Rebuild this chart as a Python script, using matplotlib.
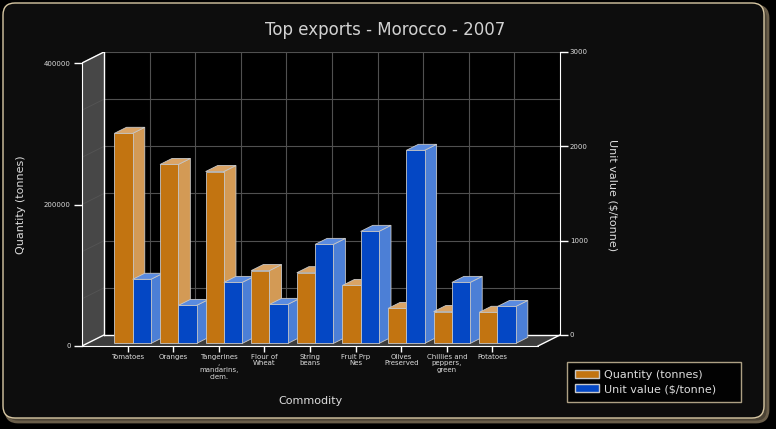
import matplotlib
matplotlib.use("Agg")
import matplotlib.pyplot as plt
from matplotlib.patches import Polygon, Rectangle, FancyBboxPatch, Patch

commodities = ["Tomatoes", "Oranges", "Tangerines\n,\nmandarins,\nclem.", "Flour of\nWheat",
               "String\nbeans", "Fruit Prp\nNes", "Olives\nPreserved",
               "Chillies and\npeppers,\ngreen", "Potatoes"]
quantity = [297000, 253000, 243000, 103000, 100000, 82000, 49500, 45000, 44000]
unit_value = [680, 403, 647, 414, 1050, 1188, 2047, 647, 392]

q_max = 400000
v_max = 3000
q_ticks = [0, 200000, 400000]
v_ticks = [0, 1000, 2000, 3000]

# 3d look: depth vector of the whole plot box (x in category units, y in tonnes)
DX, DY = 0.482, 15550
n = len(commodities)
xmax = n + 1
scale = q_max / v_max

bg = "#0d0d0d"
txt = "#dcdcdc"
orange = ("#c27411", "#d39a55", "#daa466")
blue = ("#0447c4", "#4c7fd6", "#5a8be0")

fig = plt.figure(figsize=(7.76, 4.29), dpi=100, facecolor="black")

# background frame
frame = fig.add_axes([0, 0, 1, 1])
frame.set_xlim(0, 776)
frame.set_ylim(429, 0)
frame.axis("off")
frame.add_patch(FancyBboxPatch((6, 6), 762, 416, boxstyle="round,pad=0,rounding_size=12",
                               facecolor="#4a4234", edgecolor="#6a5e4a", lw=2))
frame.add_patch(FancyBboxPatch((3, 3), 761, 415, boxstyle="round,pad=0,rounding_size=12",
                               facecolor=bg, edgecolor="#d8c8a4", lw=1))

ax = fig.add_axes([82 / 776, 1 - 346 / 429, 478 / 776, 294 / 429])
ax.set_xlim(0, xmax + DX)
ax.set_ylim(0, q_max + DY)
ax.patch.set_visible(False)

# walls and floor
ax.add_patch(Rectangle((DX, DY), xmax, q_max, facecolor="black", edgecolor="none", zorder=0))
ax.add_patch(Polygon([(0, 0), (DX, DY), (DX, q_max + DY), (0, q_max)],
                     facecolor="#474747", edgecolor="none", zorder=0))
ax.add_patch(Polygon([(0, 0), (xmax, 0), (xmax + DX, DY), (DX, DY)],
                     facecolor="#3c3c3c", edgecolor="none", zorder=0))

# grid on back wall
for k in range(1, 7):
    g = k * 500 * scale
    ax.plot([DX, xmax + DX], [g + DY, g + DY], color="#505050", lw=0.8, zorder=1)
    ax.plot([0, DX], [g, g + DY], color="#555555", lw=0.6, zorder=1)
for i in range(1, n + 1):
    ax.plot([i + DX, i + DX], [DY, q_max + DY], color="#505050", lw=0.8, zorder=1)

# box edges
w = "white"
ax.plot([0, DX], [q_max, q_max + DY], color=w, lw=1, zorder=2)
ax.plot([0, DX], [0, DY], color=w, lw=1, zorder=2)
ax.plot([DX, DX], [DY, q_max + DY], color=w, lw=1, zorder=2)
ax.plot([DX, xmax + DX], [DY, DY], color=w, lw=1, zorder=2)
ax.plot([xmax, xmax + DX], [0, DY], color=w, lw=1, zorder=2)


def bar3d(x0, x1, h, cols):
    fx, fy = 0.23 * DX, 0.23 * DY
    bx, by = 0.55 * DX, 0.55 * DY
    ec = "#c8c8c8"
    ax.add_patch(Polygon([(x1 + fx, fy), (x1 + fx + bx, fy + by), (x1 + fx + bx, h + fy + by),
                          (x1 + fx, h + fy)], facecolor=cols[1], edgecolor=ec, lw=0.6, zorder=3))
    ax.add_patch(Polygon([(x0 + fx, h + fy), (x1 + fx, h + fy), (x1 + fx + bx, h + fy + by),
                          (x0 + fx + bx, h + fy + by)], facecolor=cols[2], edgecolor=ec, lw=0.6, zorder=3))
    ax.add_patch(Rectangle((x0 + fx, fy), x1 - x0, h, facecolor=cols[0], edgecolor=ec, lw=0.6, zorder=3))


bw = 0.4
for i in range(n):
    c = i + 1
    bar3d(c - bw, c, quantity[i], orange)
    bar3d(c, c + bw, unit_value[i] * scale, blue)

# left axis
for s in ["top", "right"]:
    ax.spines[s].set_visible(False)
ax.spines["left"].set_color(w)
ax.spines["bottom"].set_color(w)
ax.spines["left"].set_bounds(0, q_max)
ax.spines["bottom"].set_bounds(0, xmax)
ax.set_yticks(q_ticks)
ax.set_yticklabels([str(t) for t in q_ticks])
ax.set_xticks(range(1, n + 1))
ax.set_xticklabels(commodities, linespacing=1.15)
ax.tick_params(axis="y", colors=w, labelcolor=txt, labelsize=5, length=6, width=1, pad=2)
ax.tick_params(axis="x", colors=w, labelcolor=txt, labelsize=5, length=4, width=1, pad=1.5)
for lab in ax.get_xticklabels():
    lab.set_verticalalignment("top")

ax.set_ylabel("Quantity (tonnes)", color=txt, fontsize=8)
ax.yaxis.set_label_coords(-0.118, 0.48)
ax.set_xlabel("Commodity", color=txt, fontsize=8)
ax.xaxis.set_label_coords(0.477, -0.17)

# right axis sits on the back plane
ax2 = ax.twinx()
ax2.set_ylim(-DY / scale, v_max)
for s in ["top", "left", "bottom"]:
    ax2.spines[s].set_visible(False)
ax2.spines["right"].set_color(w)
ax2.spines["right"].set_bounds(0, v_max)
ax2.set_yticks(v_ticks)
ax2.set_yticklabels([str(t) for t in v_ticks])
ax2.tick_params(axis="y", colors=w, labelcolor=txt, labelsize=5, length=6, width=1, pad=1)
ax2.set_ylabel("Unit value ($/tonne)", color=txt, fontsize=8, rotation=270)
ax2.yaxis.set_label_coords(1.121, 0.514)

fig.text(385 / 776, 1 - 30 / 429, "Top exports - Morocco - 2007", color="#d2d2d2",
         fontsize=12, ha="center", va="center")

handles = [Patch(facecolor=orange[0], edgecolor="#c8c8c8", label="Quantity (tonnes)"),
           Patch(facecolor=blue[0], edgecolor="#c8c8c8", label="Unit value ($/tonne)")]
leg = fig.legend(handles=handles, loc="upper left",
                 bbox_to_anchor=(567 / 776, 1 - 404 / 429, 174 / 776, 42 / 429), mode="expand",
                 borderaxespad=0, fontsize=8, frameon=True, fancybox=False,
                 facecolor="black", edgecolor="#d8c8a4", labelcolor=txt,
                 handlelength=2.2, handleheight=0.7, handletextpad=0.4,
                 borderpad=0.7, labelspacing=0.4)
leg.get_frame().set_linewidth(1)

fig.savefig("out.png", dpi=100, facecolor="black")
